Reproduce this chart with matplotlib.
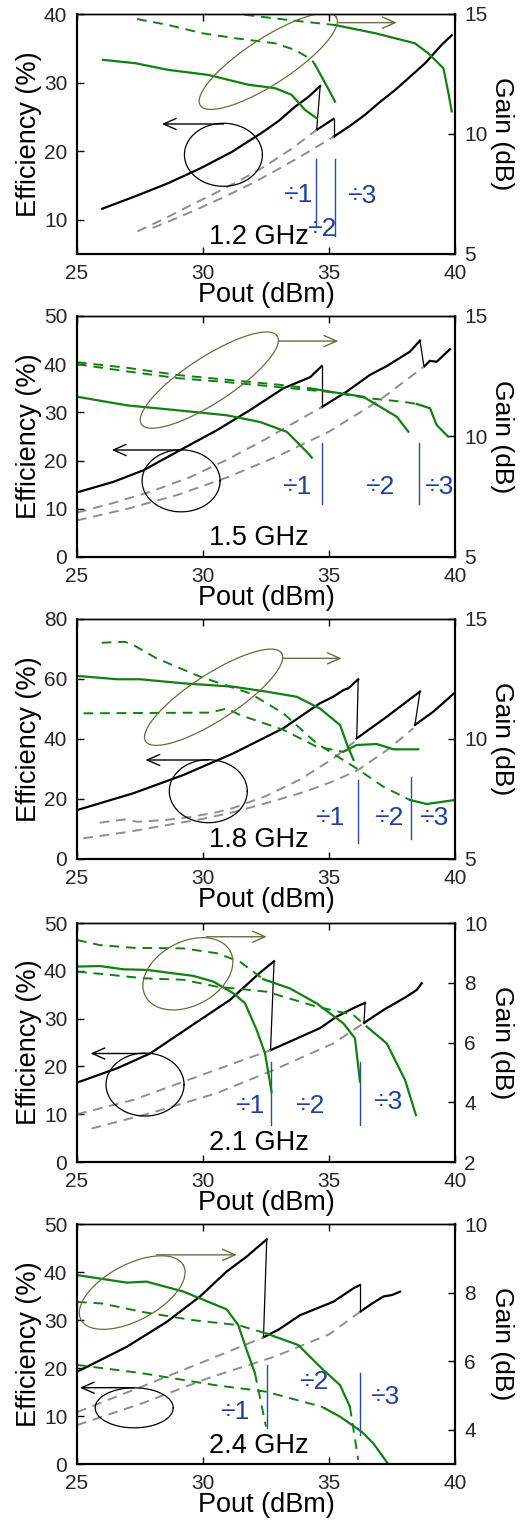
import numpy as np
import matplotlib
matplotlib.use("Agg")
import matplotlib.pyplot as plt

plt.rcParams['font.family'] = ['Liberation Sans', 'DejaVu Sans']

# ---- panel settings ----
freqs = ["1.2 GHz", "1.5 GHz", "1.8 GHz", "2.1 GHz", "2.4 GHz"]
eff_lims = [(5, 40), (0, 50), (0, 80), (0, 50), (0, 50)]
eff_ticks = [[10, 20, 30, 40], [0, 10, 20, 30, 40, 50], [0, 20, 40, 60, 80],
             [0, 10, 20, 30, 40, 50], [0, 10, 20, 30, 40, 50]]
gain_lims = [(5, 15), (5, 15), (5, 15), (2, 10), (3, 10)]
gain_ticks = [[5, 10, 15], [5, 10, 15], [5, 10, 15], [2, 4, 6, 8, 10], [4, 6, 8, 10]]
x_ticks = [25, 30, 35, 40]

# ---- 1.2 GHz ----
eff_12 = [([26.0, 27.3, 28.6, 29.9, 31.15, 32.3, 33.0, 33.66, 34.18, 34.65],
           [11.6, 13.4, 15.3, 17.5, 19.9, 22.6, 24.4, 26.5, 27.9, 29.5]),
          ([34.51, 35.18], [23.1, 24.7]),
          ([35.18, 35.8, 36.43, 37.0, 37.62, 38.2, 38.81, 39.47, 39.87],
           [22.1, 23.6, 25.3, 27.1, 28.9, 30.8, 32.8, 35.5, 36.9])]
bo_12 = [([27.4, 28.5, 29.5, 30.5, 31.5, 32.5, 33.5, 34.51],
          [8.3, 10.2, 12.1, 13.9, 15.8, 17.9, 20.3, 23.1]),
         ([28.0, 29.0, 30.0, 31.0, 32.0, 33.0, 34.0, 35.18],
          [8.8, 10.3, 11.9, 13.6, 15.4, 17.4, 19.5, 22.1])]
gain_12 = [([26.03, 27.31, 28.63, 30.22, 31.81, 32.86, 33.52, 34.05, 34.51],
            [13.09, 12.95, 12.67, 12.46, 12.05, 11.91, 11.63, 11.0, 10.66]),
           ([34.45, 34.85, 35.24], [12.88, 12.12, 11.35]),
           ([35.24, 36.83, 38.41, 38.94, 39.54, 39.74, 39.87],
            [14.54, 14.2, 13.78, 13.36, 12.74, 11.7, 10.94])]
gain_d_12 = [([27.38, 28.63, 29.96, 31.28, 32.86, 33.66, 34.32, 34.45],
              [14.79, 14.54, 14.2, 13.99, 13.78, 13.5, 13.09, 12.88]),
             ([31.0, 33.39, 35.24], [15.05, 14.75, 14.54])]

# ---- 1.5 GHz ----
eff_15 = [([25.0, 26.45, 27.64, 29.1, 30.55, 31.87, 33.19, 34.25, 34.71],
           [13.4, 15.6, 18.0, 22.2, 26.3, 30.5, 35.0, 37.3, 39.6]),
          ([34.71, 35.7, 36.63, 37.29, 38.21, 38.61], [31.1, 34.3, 37.8, 39.6, 42.6, 44.9]),
          ([38.77, 39.0, 39.27, 39.8], [39.5, 40.7, 40.5, 43.1])]
bo_15 = [([25.0, 26.5, 28.0, 29.5, 31.0, 32.5, 34.0, 34.71],
          [9.2, 11.3, 13.7, 16.6, 20.3, 24.5, 29.0, 31.1]),
         ([25.0, 27.0, 29.0, 31.0, 33.0, 35.0, 37.0, 38.77],
          [7.6, 10.0, 12.9, 16.6, 21.0, 26.0, 32.5, 39.5])]
gain_15 = [([25.0, 27.0, 28.97, 30.95, 32.27, 33.33, 34.12, 34.32],
            [11.65, 11.29, 11.09, 10.88, 10.6, 10.19, 9.36, 9.12]),
           ([34.25, 35.04, 36.36, 37.69, 38.15], [12.0, 11.86, 11.65, 10.82, 10.2]),
           ([38.48, 39.01, 39.27, 39.73], [11.35, 11.17, 10.48, 9.99])]
gain_d_15 = [([25.0, 27.0, 29.0, 31.0, 33.0, 34.25], [13.08, 12.85, 12.55, 12.35, 12.15, 12.0]),
             ([25.0, 27.0, 29.0, 31.0, 33.0, 35.0, 36.63, 37.95, 38.48],
              [13.0, 12.7, 12.42, 12.25, 12.05, 11.85, 11.58, 11.44, 11.35])]

# ---- 1.8 GHz ----
eff_18 = [([25.0, 27.23, 29.22, 31.2, 33.19, 34.64, 35.17, 35.57, 35.77, 36.16],
           [16.3, 21.9, 28.0, 35.2, 43.6, 51.9, 54.1, 56.3, 56.9, 59.9]),
          ([36.1, 37.29, 38.61], [40.2, 47.4, 55.8]),
          ([38.41, 39.14, 40.0], [44.7, 49.1, 55.5])]
bo_18 = [([25.9, 26.9, 27.4, 28.5, 29.5, 30.5, 31.2, 32.5, 33.85, 35.17, 36.1],
          [12.1, 13.2, 12.4, 13.0, 14.0, 15.5, 17.0, 21.0, 26.5, 33.5, 39.7]),
         ([25.25, 27.0, 28.5, 30.0, 31.2, 32.5, 34.0, 35.2, 36.16, 37.3, 38.35],
          [6.9, 9.0, 11.2, 13.4, 15.6, 18.6, 22.3, 26.0, 29.7, 36.3, 43.6])]
gain_18 = [([25.0, 26.59, 27.5, 29.22, 31.2, 32.53, 33.72, 34.64, 35.44, 35.7, 35.97],
            [12.63, 12.49, 12.49, 12.32, 12.18, 11.97, 11.76, 11.27, 10.58, 9.82, 9.13]),
           ([35.57, 36.1, 36.9, 37.56, 38.54], [9.47, 9.75, 9.79, 9.57, 9.57]),
           ([38.21, 38.88, 40.0], [7.46, 7.29, 7.46])]
gain_d_18 = [([25.26, 30.28, 30.94, 31.47, 33.19, 34.51, 35.57],
              [11.07, 11.1, 11.27, 11.0, 10.38, 9.68, 9.47]),
             ([25.98, 26.9, 27.23, 28.16, 29.88, 31.87, 33.19, 34.51, 36.1, 37.16, 38.21],
              [14.01, 14.05, 13.92, 13.36, 12.6, 11.9, 11.07, 9.82, 8.77, 8.01, 7.46])]

# ---- 2.1 GHz ----
eff_21 = [([25.0, 26.59, 27.9, 29.48, 31.07, 32.26, 32.82], [16.6, 19.6, 22.7, 28.3, 33.9, 39.6, 42.0]),
          ([32.68, 33.45, 34.64, 35.3, 35.97, 36.43], [23.4, 25.2, 28.0, 30.4, 32.2, 33.3]),
          ([36.39, 37.16, 38.08, 38.48, 38.68], [29.1, 31.8, 34.6, 36.0, 37.4])]
bo_21 = [([25.0, 27.24, 29.22, 31.2, 32.68], [10.0, 13.0, 16.8, 20.6, 23.4]),
         ([25.58, 27.9, 30.54, 32.78, 35.17, 36.39], [7.0, 10.2, 14.4, 19.2, 24.8, 29.1])]
gain_21 = [([25.0, 25.91, 26.84, 27.77, 29.61, 30.41, 31.2, 31.67, 32.13, 32.46, 32.72],
            [8.54, 8.56, 8.45, 8.43, 8.23, 8.04, 7.65, 7.31, 6.42, 5.64, 4.35]),
           ([32.39, 33.45, 34.51, 35.57, 36.03, 36.23], [8.12, 7.81, 7.31, 6.64, 6.14, 4.69]),
           ([36.5, 37.29, 38.02, 38.45], [6.53, 5.97, 4.74, 3.57])]
gain_d_21 = [([25.0, 25.91, 27.24, 29.22, 30.54, 31.47, 32.39], [9.43, 9.26, 9.17, 9.15, 8.99, 8.70, 8.12]),
             ([25.0, 25.91, 27.63, 29.22, 30.54, 32.53, 34.51, 35.97, 36.5],
              [8.37, 8.3, 8.15, 8.1, 7.87, 7.7, 7.2, 6.92, 6.53])]

# ---- 2.4 GHz ----
eff_24 = [([25.0, 26.97, 28.56, 29.88, 30.94, 31.73, 32.53], [19.2, 24.4, 29.6, 34.9, 40.1, 43.2, 46.8]),
          ([32.4, 33.0, 33.85, 35.17, 35.97, 36.23], [26.4, 28.0, 31.0, 33.8, 36.6, 37.3]),
          ([36.23, 36.7, 37.16, 37.5, 37.82], [31.7, 33.4, 34.9, 35.2, 35.9])]
bo_24 = [([25.0, 27.56, 30.21, 32.4], [10.8, 16.1, 21.7, 26.4]),
         ([25.0, 27.56, 30.21, 32.86, 35.0, 36.23], [8.1, 12.6, 17.9, 22.4, 27.0, 31.7])]
gain_24 = [([25.0, 26.97, 27.76, 29.22, 30.94, 31.4, 31.73, 32.06],
            [8.51, 8.29, 8.32, 8.03, 7.51, 7.05, 6.33, 5.65]),
           ([32.5, 33.78, 34.71, 35.44, 35.83], [6.81, 6.47, 5.79, 5.3, 4.67]),
           ([34.84, 35.44, 36.3, 36.76, 37.35], [4.62, 4.38, 3.94, 3.6, 3.0])]
gain_d_24 = [([25.0, 26.0, 27.56, 29.55, 31.4, 32.5], [7.73, 7.68, 7.44, 7.2, 7.05, 6.81]),
             ([25.0, 27.56, 30.48, 32.5, 34.71, 34.84], [5.89, 5.65, 5.3, 5.11, 4.67, 4.62]),
             ([32.06, 32.5], [5.65, 4.09]),
             ([35.83, 36.16], [4.67, 3.12])]

eff_all = [eff_12, eff_15, eff_18, eff_21, eff_24]
bo_all = [bo_12, bo_15, bo_18, bo_21, bo_24]
gain_all = [gain_12, gain_15, gain_18, gain_21, gain_24]
gain_d_all = [gain_d_12, gain_d_15, gain_d_18, gain_d_21, gain_d_24]

# divider boundaries (x, efficiency range) and labels
div_x = [[34.48, 35.24], [34.71, 38.58], [36.14, 38.25], [32.68, 36.23], [32.53, 36.23]]
div_lo = [[9.0, 7.6], [11.0, 11.0], [5.4, 6.8], [7.7, 7.7], [7.6, 6.0]]
div_hi = [[18.8, 18.8], [23.7, 23.7], [26.3, 27.5], [21.0, 21.0], [20.6, 19.0]]
div_labels = ["\u00f71", "\u00f72", "\u00f73"]
div_lab_x = [[33.76, 34.71, 36.3], [33.72, 37.02, 39.34], [35.04, 37.39, 39.14],
             [31.87, 34.25, 37.35], [31.27, 34.38, 37.22]]
div_lab_y = [[13.6, 8.6, 13.4], [14.6, 14.6, 14.6], [13.6, 13.6, 13.6],
             [11.7, 11.7, 12.6], [10.9, 17.1, 13.9]]
freq_x = 32.2
freq_y = [7.5, 3.9, 6.3, 4.0, 3.75]

# ellipse callouts: black -> efficiency axis, olive -> gain axis
eff_ell = [(30.81, 19.47), (29.13, 15.8), (30.21, 22.6), (27.7, 16.2), (27.27, 11.7)]
eff_ell_size = [(39, 31.5), (39, 31), (39, 31.5), (39, 31.5), (39, 20)]
eff_arrow = [(30.81, 28.37, 23.96), (29.13, 26.38, 22.2), (30.21, 27.72, 33.0),
             (27.7, 25.54, 22.7), (27.27, 25.12, 15.9)]
gain_ell = [(32.59, 13.03), (30.25, 12.34), (30.42, 11.74), (29.4, 8.3), (27.19, 8.0)]
gain_ell_size = [(81, 23, 33), (81, 23, 33), (81, 23, 33), (48, 32, 28), (58, 28, 28)]
gain_arrow = [(35.37, 37.69, 14.64), (32.99, 35.37, 13.96), (33.16, 35.5, 13.36),
              (30.14, 32.53, 9.54), (28.16, 31.34, 9.1)]

GREEN = '#118011'
GRAY = '#8e8e8e'
BLUE = '#1d3f9e'
OLIVE = '#666e3e'
TICKC = '#262626'


def ellipse(ax, cx, cy, a, b, ang, color):
    # ellipse sized in pixels, placed in data coords
    t = np.linspace(0, 2 * np.pi, 240)
    px, py = ax.transData.transform((cx, cy))
    th = np.deg2rad(ang)
    ex = px + a * np.cos(t) * np.cos(th) - b * np.sin(t) * np.sin(th)
    ey = py + a * np.cos(t) * np.sin(th) + b * np.sin(t) * np.cos(th)
    pts = ax.transData.inverted().transform(np.column_stack([ex, ey]))
    ax.plot(pts[:, 0], pts[:, 1], color=color, lw=0.9)


def arrow(ax, x0, x1, y, color):
    ax.annotate("", xy=(x1, y), xytext=(x0, y),
                arrowprops=dict(arrowstyle='->,head_length=0.9,head_width=0.4',
                                color=color, lw=1.0, shrinkA=0, shrinkB=0,
                                mutation_scale=10))


fig = plt.figure(figsize=(5.24, 15.21), dpi=100)
W, H = 524, 1521
tops = [14, 316, 619, 923, 1224]
bots = [254, 557, 859, 1162, 1464]
left_px, right_px = 77, 455

for i in range(5):
    rect = [left_px / W, 1 - bots[i] / H, (right_px - left_px) / W, (bots[i] - tops[i]) / H]
    ax = fig.add_axes(rect)
    ax2 = ax.twinx()
    ax.set_xlim(25, 40)
    ax.set_ylim(*eff_lims[i])
    ax2.set_ylim(*gain_lims[i])
    ax.set_xticks(x_ticks)
    ax.set_yticks(eff_ticks[i])
    ax2.set_yticks(gain_ticks[i])

    ax.tick_params(axis='x', direction='in', top=True, length=5, width=1,
                   labelsize=15, pad=7, labelcolor=TICKC)
    ax.tick_params(axis='y', direction='in', right=False, length=5, width=1,
                   labelsize=15, pad=7, labelcolor=TICKC)
    ax2.tick_params(axis='y', direction='in', length=5, width=1,
                    labelsize=15, pad=6.5, labelcolor=TICKC)
    for a_ in (ax, ax2):
        for s in a_.spines.values():
            s.set_linewidth(1.5)
        a_.spines['top'].set_linewidth(1.0)

    ax.set_xlabel("Pout (dBm)", fontsize=19.5, va='center')
    ax.xaxis.set_label_coords(0.5, -0.171)
    ax.set_ylabel("Efficiency (%)", fontsize=19.5, va='center')
    ax.yaxis.set_label_coords(-0.126, 0.5)
    ax2.set_ylabel("Gain (dB)", fontsize=19, rotation=270, va='center')
    ax2.yaxis.set_label_coords(1.125, 0.5)

    # efficiency: black sawtooth with thin drops
    segs = eff_all[i]
    for k, (xs, ys) in enumerate(segs):
        ax.plot(xs, ys, color='black', lw=1.6)
        if k + 1 < len(segs):
            nx, ny = segs[k + 1]
            ax.plot([xs[-1], nx[0]], [ys[-1], ny[0]], color='black', lw=0.9)
    for xs, ys in bo_all[i]:
        ax.plot(xs, ys, color=GRAY, lw=1.4, dashes=(5, 3.5))

    # gain
    for xs, ys in gain_all[i]:
        ax2.plot(xs, ys, color=GREEN, lw=1.6)
    for xs, ys in gain_d_all[i]:
        ax2.plot(xs, ys, color=GREEN, lw=1.4, dashes=(5, 3.5))

    # divider boundaries
    for k in range(2):
        ax.plot([div_x[i][k]] * 2, [div_lo[i][k], div_hi[i][k]], color='#2a4bab', lw=1.0)
    for k in range(3):
        ax.text(div_lab_x[i][k], div_lab_y[i][k], div_labels[k], color=BLUE,
                fontsize=19, ha='center', va='center')
    ax.text(freq_x, freq_y[i], freqs[i], fontsize=19.5, ha='center', va='center')

    # callouts
    ea, eb = eff_ell_size[i]
    ellipse(ax, eff_ell[i][0], eff_ell[i][1], ea, eb, 0, 'black')
    arrow(ax, eff_arrow[i][0], eff_arrow[i][1], eff_arrow[i][2], 'black')
    ga, gb, gang = gain_ell_size[i]
    ellipse(ax2, gain_ell[i][0], gain_ell[i][1], ga, gb, gang, OLIVE)
    arrow(ax2, gain_arrow[i][0], gain_arrow[i][1], gain_arrow[i][2], OLIVE)

fig.savefig("out.png", dpi=100)
